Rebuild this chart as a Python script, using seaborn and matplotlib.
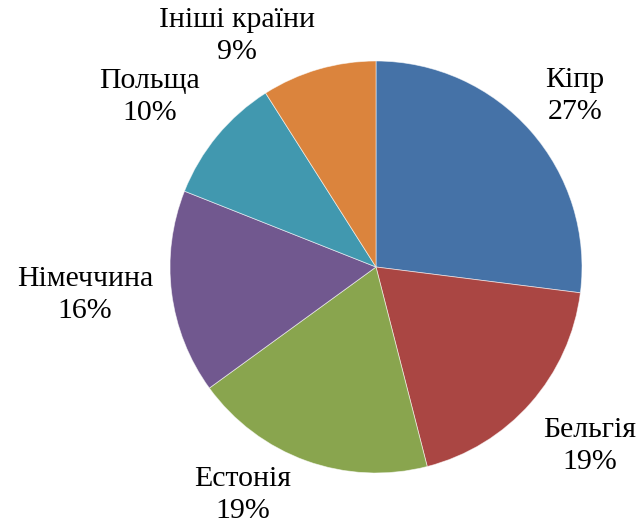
import numpy as np
import matplotlib
matplotlib.use("Agg")
import matplotlib.pyplot as plt
import seaborn as sns

countries = ["Кіпр", "Бельгія", "Естонія", "Німеччина", "Польща", "Ініші країни"]
shares = [27, 19, 19, 16, 10, 9]
colors = ["#4572A7", "#AA4643", "#89A54E", "#71588F", "#4198AF", "#DB843D"]
# label placement relative to each wedge: radial factor and angular shift (deg)
label_dist = [1.274, 1.354, 1.281, 1.419, 1.373, 1.309]
label_shift = [-0.7, 1.5, -10.5, -1.7, 2.65, 14.8]

sns.set_theme(style="white")
plt.rcParams['font.family'] = ['Liberation Serif', 'DejaVu Serif']

fig = plt.figure(figsize=(6.37, 5.26), dpi=100)
ax = fig.add_axes([0, 0, 1, 1])
pal = sns.color_palette(colors)

R_px = 206.0
cx, cy = 376.0, 267.0
W, H = 637.0, 526.0

wedges, _ = ax.pie(shares, colors=pal, startangle=90, counterclock=False,
                   radius=1.0, center=(0, 0),
                   wedgeprops=dict(edgecolor=(1, 1, 1, 0.6), linewidth=0.6))

for w, name, val, d, s in zip(wedges, countries, shares, label_dist, label_shift):
    ang = np.deg2rad((w.theta1 + w.theta2) / 2 + s)
    x, y = d * np.cos(ang), d * np.sin(ang)
    ax.text(x, y, f"{name}\n{val}%", ha="center", va="center",
            fontsize=21.5, color="black", linespacing=1.3)

ax.set_xlim(-cx / R_px, (W - cx) / R_px)
ax.set_ylim(-(H - cy) / R_px, cy / R_px)
ax.set_aspect("auto")
ax.axis("off")

fig.savefig("out.png", dpi=100, facecolor="white")
